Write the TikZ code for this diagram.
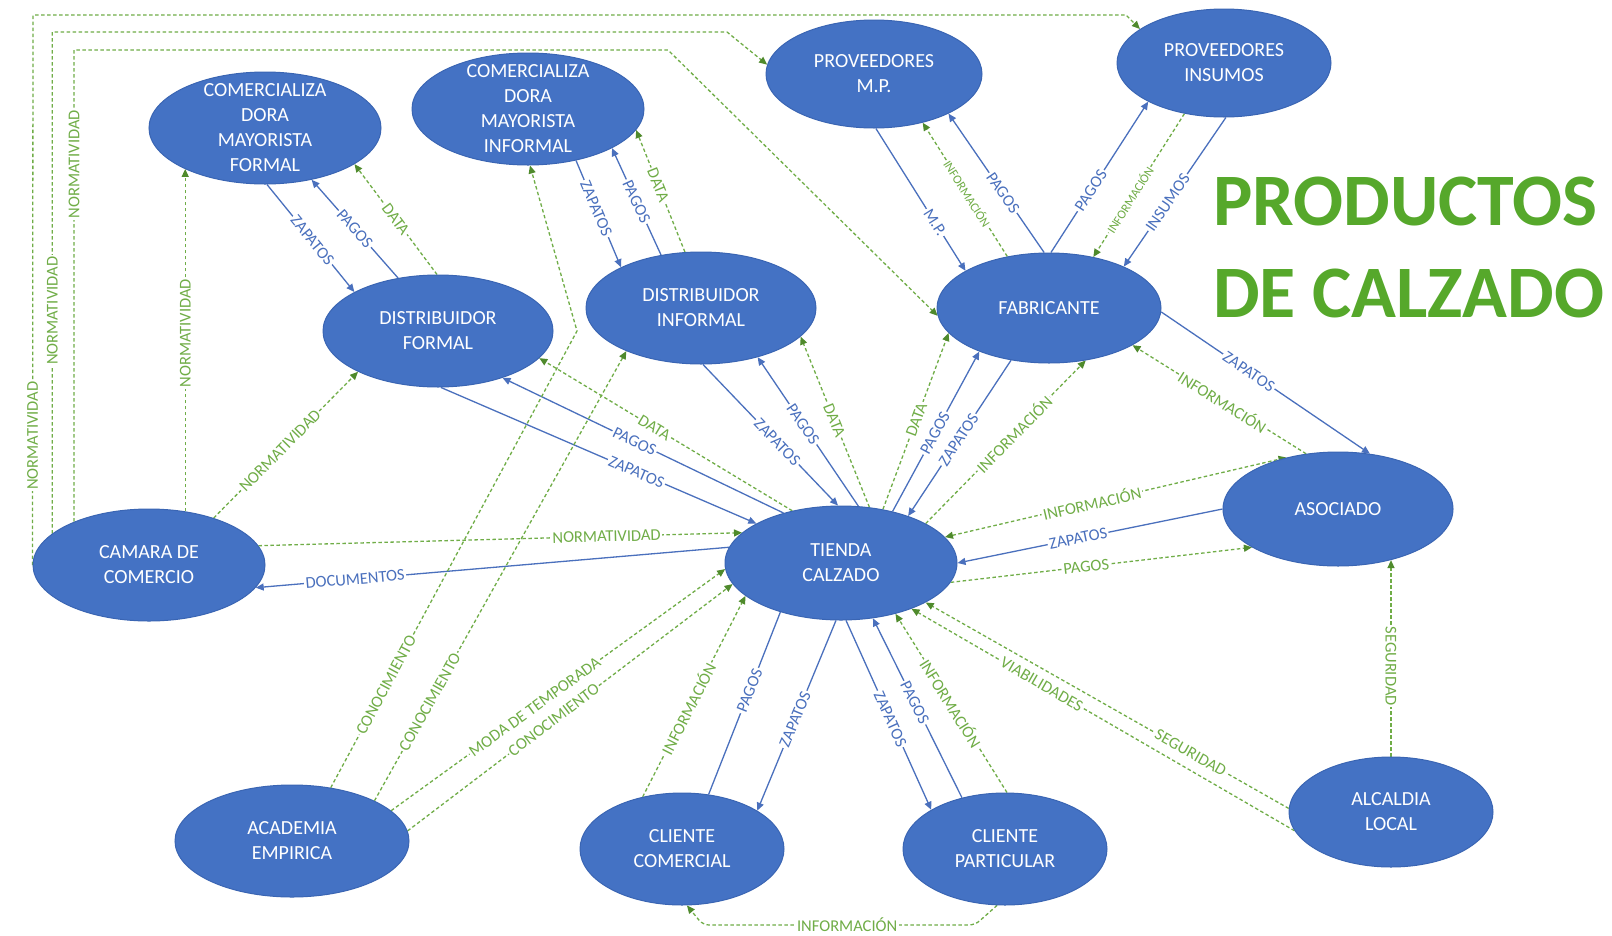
\documentclass[tikz,border=0pt]{standalone}
\usepackage{fontspec}
\setmainfont{Carlito}
\usetikzlibrary{shapes.geometric,arrows.meta}

\definecolor{nodeblue}{HTML}{4472C4}
\definecolor{nodeedge}{HTML}{3A65B3}
\definecolor{linkblue}{HTML}{4A70BD}
\definecolor{linkgreen}{HTML}{70AD47}
\definecolor{tipgreen}{HTML}{4F8A2C}
\definecolor{titlegreen}{HTML}{56A82B}

\pgfdeclarelayer{paper}
\pgfdeclarelayer{links}
\pgfsetlayers{paper,links,main}

\tikzset{
  btip/.tip={Triangle[length=8pt,width=7pt]},
  gtip/.tip={Triangle[length=8pt,width=7pt,color=tipgreen]},
  actor/.style={ellipse,fill=nodeblue,draw=nodeedge,line width=1pt,inner sep=0pt},
  actortext/.style={text=white,align=center,inner sep=0pt,font=\fontsize{20}{25}\selectfont},
  linkflow/.style={draw=linkblue,line width=1.3pt,-btip},
  linkinfo/.style={draw=linkgreen,line width=1.3pt,dash pattern=on 3.5pt off 2.5pt,-gtip},
  tagbase/.style={fill=white,inner sep=1.5pt,font=\fontsize{16.5}{16.5}\selectfont},
  bluetag/.style={tagbase,text=linkblue,sloped},
  greentag/.style={tagbase,text=linkgreen,sloped},
  smallgreentag/.style={greentag,inner sep=1pt,font=\fontsize{12.5}{12.5}\selectfont},
  greenup/.style={tagbase,text=linkgreen,rotate=90},
  greendown/.style={tagbase,text=linkgreen,rotate=-90},
  titlefont/.style={inner sep=0pt,anchor=base west,text=titlegreen,font=\fontsize{74}{88}\selectfont\bfseries},
}

\begin{document}
\begin{tikzpicture}[x=1pt,y=-1pt]
\begin{pgfonlayer}{paper}
  \fill[white] (0,0) rectangle (1612,935);
\end{pgfonlayer}
\useasboundingbox (0,0) rectangle (1612,935);

% actors
\node[actor,minimum width=232,minimum height=112] (CMF) at (265,128) {};
\node[actor,minimum width=232,minimum height=112] (CMI) at (528,109) {};
\node[actor,minimum width=216,minimum height=108] (PMP) at (874,74) {};
\node[actor,minimum width=214,minimum height=108] (PI) at (1224,63) {};
\node[actor,minimum width=230,minimum height=112] (DF) at (438,331) {};
\node[actor,minimum width=230,minimum height=112] (DI) at (701,308) {};
\node[actor,minimum width=224,minimum height=110] (FAB) at (1049,308) {};
\node[actor,minimum width=230,minimum height=114] (ASOC) at (1338,509) {};
\node[actor,minimum width=232,minimum height=112] (CAM) at (149,565) {};
\node[actor,minimum width=232,minimum height=114] (TIENDA) at (841,563) {};
\node[actor,minimum width=234,minimum height=112] (ACAD) at (292,841) {};
\node[actor,minimum width=204,minimum height=112] (CC) at (682,849) {};
\node[actor,minimum width=204,minimum height=112] (CP) at (1005,849) {};
\node[actor,minimum width=204,minimum height=110] (ALC) at (1391,812) {};

\node[actortext] (CMFt) at (CMF) {COMERCIALIZA\\DORA\\MAYORISTA\\FORMAL};
\node[actortext] (CMIt) at (CMI) {COMERCIALIZA\\DORA\\MAYORISTA\\INFORMAL};
\node[actortext] (PMPt) at (PMP) {PROVEEDORES\\M.P.};
\node[actortext] (PIt) at (PI) {PROVEEDORES\\INSUMOS};
\node[actortext] (DFt) at (DF) {DISTRIBUIDOR\\FORMAL};
\node[actortext] (DIt) at (DI) {DISTRIBUIDOR\\INFORMAL};
\node[actortext] (FABt) at (FAB) {FABRICANTE};
\node[actortext] (ASOCt) at (ASOC) {ASOCIADO};
\node[actortext] (CAMt) at (CAM) {CAMARA DE\\COMERCIO};
\node[actortext] (TIENDAt) at (TIENDA) {TIENDA\\CALZADO};
\node[actortext] (ACADt) at (ACAD) {ACADEMIA\\EMPIRICA};
\node[actortext] (CCt) at (CC) {CLIENTE\\COMERCIAL};
\node[actortext] (CPt) at (CP) {CLIENTE\\PARTICULAR};
\node[actortext] (ALCt) at (ALC) {ALCALDIA\\LOCAL};

% title
\node[titlefont] (headA) at (1213,225) {PRODUCTOS};
\node[titlefont] (headB) at (1213,317) {DE CALZADO};

% bend and corner points of routed connectors
\coordinate (loopA1) at (33,15);
\coordinate (loopA2) at (1126,15);
\coordinate (loopB2) at (727,32);
\coordinate (loopC2) at (668,50);
\coordinate (kbend) at (577,331);
\coordinate (cpfoot) at (975,925);
\coordinate (ccfoot) at (703,925);

\begin{pgfonlayer}{links}
% wholesalers and distributors
\draw[linkflow] (CMF.-88) -- node[bluetag,pos=0.52]{ZAPATOS} (DF.155);
\draw[linkflow] (DF.127) -- node[bluetag,pos=0.5]{PAGOS} (CMF.-48);
\draw[linkinfo] (DF.91) -- node[greentag,pos=0.5]{DATA} (CMF.-22);
\draw[linkflow] (CMI.-47) -- node[bluetag,pos=0.45]{ZAPATOS} (DI.153);
\draw[linkflow] (DI.127) -- node[bluetag,pos=0.5]{PAGOS} (CMI.-25);
\draw[linkinfo] (DI.106) -- node[greentag,pos=0.55]{DATA} (CMI.-11);

% chamber of commerce
\draw[linkinfo] (CAM.west) -- node[greenup,pos=0.235]{NORMATIVIDAD} (loopA1) -- (loopA2) -- (PI.158);
\draw[linkinfo] (CAM.162) -- node[greenup,pos=0.444]{NORMATIVIDAD} (CAM.162 |- loopB2) -- (loopB2) -- (PMP.175);
\draw[linkinfo] (CAM.150) -- node[greenup,pos=0.758]{NORMATIVIDAD} (CAM.150 |- loopC2) -- (loopC2) -- (FAB.184);
\draw[linkinfo] (CAM.56) -- node[greenup,pos=0.52]{NORMATIVIDAD} (CAM.56 |- CMF.-153);
\draw[linkinfo] (CAM.36) -- node[greentag,pos=0.46]{NORMATIVIDAD} (DF.207);
\draw[linkinfo] (CAM.10) -- node[greentag,pos=0.72]{NORMATIVIDAD} (TIENDA.163);
\draw[linkflow] (TIENDA.172) -- node[bluetag,pos=0.79]{DOCUMENTOS} (CAM.-12);

% distributors and the store
\draw[linkflow] (DF.-87) -- node[bluetag,pos=0.62]{ZAPATOS} (TIENDA.155);
\draw[linkflow] (TIENDA.139) -- node[bluetag,pos=0.53]{PAGOS} (DF.-36);
\draw[linkinfo] (TIENDA.133) -- node[greentag,pos=0.545]{DATA} (DF.-15);
\draw[linkflow] (DI.-88) -- node[bluetag,pos=0.55]{ZAPATOS} (TIENDA.93);
\draw[linkflow] (TIENDA.73) -- node[bluetag,pos=0.55]{PAGOS} (DI.-41);
\draw[linkinfo] (TIENDA.63) -- node[greentag,pos=0.51]{DATA} (DI.-16);

% manufacturer
\draw[linkinfo] (TIENDA.52) -- node[greentag,pos=0.51]{DATA} (FAB.194);
\draw[linkflow] (TIENDA.45) -- node[bluetag,pos=0.49]{PAGOS} (FAB.212);
\draw[linkflow] (FAB.234) -- node[bluetag,pos=0.51]{ZAPATOS} (TIENDA.35);
\draw[linkinfo] (TIENDA.25) -- node[greentag,pos=0.55]{INFORMACIÓN} (FAB.-55);
\draw[linkflow] (PMP.-88) -- node[bluetag,pos=0.66]{M.P.} (FAB.156);
\draw[linkinfo] (FAB.129) -- node[smallgreentag,pos=0.47]{INFORMACIÓN} (PMP.-45);
\draw[linkflow] (FAB.95) -- node[bluetag,pos=0.43]{PAGOS} (PMP.-28);
\draw[linkflow] (FAB.88) -- node[bluetag,pos=0.41]{PAGOS} (PI.207);
\draw[linkinfo] (PI.232) -- node[smallgreentag,pos=0.6]{INFORMACIÓN} (FAB.49);
\draw[linkflow] (PI.-88) -- node[bluetag,pos=0.57]{INSUMOS} (FAB.29);

% associate
\draw[linkinfo,gtip-gtip] (TIENDA.14) -- node[greentag,pos=0.43]{INFORMACIÓN} (ASOC.135);
\draw[linkflow] (ASOC.180) -- node[bluetag,pos=0.545]{ZAPATOS} (TIENDA.0);
\draw[linkinfo] (TIENDA.-10) -- node[greentag,pos=0.45]{PAGOS} (ASOC.204);
\draw[linkflow] (FAB.-2) -- node[bluetag,pos=0.42]{ZAPATOS} (ASOC.60);
\draw[linkinfo] (ASOC.120) -- node[greentag,pos=0.48]{INFORMACIÓN} (FAB.-24);

% local government
\draw[linkinfo] (ALC.north) -- node[greendown,pos=0.46]{SEGURIDAD} (ALC.north |- ASOC.-44);
\draw[linkinfo] (ALC.178) -- node[greentag,pos=0.27]{SEGURIDAD} (TIENDA.-25);
\draw[linkinfo] (ALC.191) -- node[greentag,pos=0.66]{VIABILIDADES} (TIENDA.-33);

% academia
\draw[linkinfo] (ACAD.54) -- node[greentag,pos=0.225]{CONOCIMIENTO} (kbend) -- (CMI.-88);
\draw[linkinfo] (ACAD.26) -- node[greentag,pos=0.22]{CONOCIMIENTO} (DI.210);
\draw[linkinfo] (ACAD.17) -- node[greentag,pos=0.43]{MODA DE TEMPORADA} (TIENDA.183);
\draw[linkinfo] (ACAD.5) -- node[greentag,pos=0.45]{CONOCIMIENTO} (TIENDA.191);

% customers
\draw[linkinfo] (CC.127) -- node[greentag,pos=0.44]{INFORMACIÓN} (TIENDA.199);
\draw[linkflow,-] (CC.64) -- node[bluetag,pos=0.57]{PAGOS} (TIENDA.219);
\draw[linkflow] (TIENDA.-95) -- node[bluetag,pos=0.52]{ZAPATOS} (CC.27);
\draw[linkflow] (TIENDA.-85) -- node[bluetag,pos=0.52]{ZAPATOS} (CP.152);
\draw[linkflow] (CP.130) -- node[bluetag,pos=0.53]{PAGOS} (TIENDA.-60);
\draw[linkinfo] (CP.88) -- node[greentag,pos=0.5]{INFORMACIÓN} (TIENDA.-43);
\draw[linkinfo,rounded corners=6pt] (CP.-98) -- (cpfoot) -- node[greentag,pos=0.47]{INFORMACIÓN} (ccfoot) -- (CC.-85);
\end{pgfonlayer}
\end{tikzpicture}
\end{document}
